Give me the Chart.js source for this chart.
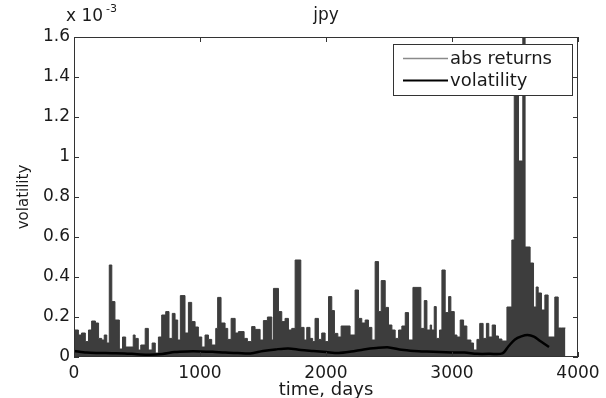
<!DOCTYPE html>
<html>
<head>
<meta charset="utf-8">
<script src="https://cdn.jsdelivr.net/npm/chart.js@4"></script>
<style>
  body { margin: 0; background: #fff; }
</style>
</head>
<body>
<canvas id="chart" width="606" height="398"></canvas>
<script>
// abs returns (x 1e-3), each value holds from its start day to the next one
const retDays = [0, 35, 60, 90, 115, 140, 170, 195, 220, 240, 260, 280, 300, 325, 360, 385, 410, 470, 485, 510,
  530, 565, 590, 620, 645, 670, 696, 728, 754, 780, 802, 823, 844, 881, 908, 934, 961, 987, 1014, 1040,
  1067, 1093, 1125, 1140, 1167, 1199, 1220, 1247, 1279, 1305, 1350, 1376, 1410, 1437, 1477, 1503, 1535, 1570, 1583, 1623,
  1649, 1675, 1702, 1728, 1755, 1800, 1826, 1847, 1873, 1894, 1913, 1940, 1966, 1993, 2020, 2046, 2067, 2094, 2120, 2191,
  2231, 2258, 2284, 2311, 2337, 2364, 2390, 2417, 2438, 2470, 2496, 2523, 2549, 2576, 2602, 2629, 2655, 2690, 2753, 2780,
  2801, 2827, 2838, 2859, 2875, 2901, 2920, 2946, 2973, 2991, 3018, 3039, 3065, 3092, 3118, 3150, 3171, 3198, 3220, 3247,
  3273, 3292, 3319, 3345, 3369, 3396, 3436, 3475, 3494, 3528, 3562, 3580, 3620, 3647, 3668, 3684, 3710, 3737, 3763, 3816,
  3843, 3869, 3900];
const retValues = [0.06, 0.135, 0.11, 0.12, 0.077, 0.135, 0.18, 0.17, 0.093, 0.085, 0.11, 0.07, 0.46, 0.277, 0.185, 0.04, 0.10, 0.05, 0.11, 0.093,
  0.035, 0.06, 0.143, 0.035, 0.07, 0.02, 0.10, 0.21, 0.227, 0.093, 0.218, 0.185, 0.085, 0.307, 0.12, 0.273, 0.177, 0.15, 0.10, 0.05,
  0.11, 0.088, 0.06, 0.143, 0.298, 0.17, 0.143, 0.088, 0.193, 0.12, 0.127, 0.093, 0.077, 0.152, 0.138, 0.085, 0.182, 0.20, 0.085, 0.343,
  0.227, 0.177, 0.193, 0.135, 0.143, 0.485, 0.148, 0.085, 0.148, 0.093, 0.077, 0.193, 0.088, 0.12, 0.077, 0.302, 0.232, 0.118, 0.10, 0.155,
  0.11, 0.335, 0.193, 0.17, 0.185, 0.148, 0.085, 0.477, 0.227, 0.382, 0.248, 0.16, 0.135, 0.093, 0.135, 0.155, 0.222, 0.085, 0.348, 0.143,
  0.282, 0.135, 0.16, 0.135, 0.252, 0.093, 0.135, 0.435, 0.222, 0.302, 0.227, 0.11, 0.10, 0.185, 0.155, 0.085, 0.07, 0.035, 0.088, 0.168,
  0.093, 0.168, 0.10, 0.16, 0.105, 0.09, 0.08, 0.25, 0.585, 1.5, 0.98, 1.75, 0.55, 0.47, 0.25, 0.35, 0.32, 0.235, 0.31, 0.10,
  0.30, 0.145, 0.145];

// smoothed volatility (x 1e-3)
const volDays = [0, 100, 200, 300, 400, 500, 600, 700, 800, 900, 1000, 1100, 1200, 1300, 1400, 1500, 1600, 1700, 1800, 1900,
  2000, 2100, 2200, 2300, 2400, 2500, 2600, 2700, 2800, 2900, 3000, 3100, 3200, 3300, 3400, 3450, 3500, 3550, 3600, 3650,
  3700, 3770];
const volValues = [0.030, 0.022, 0.020, 0.019, 0.018, 0.014, 0.011, 0.015, 0.025, 0.028, 0.028, 0.026, 0.022, 0.020, 0.018, 0.030, 0.038, 0.043, 0.035, 0.030,
  0.025, 0.020, 0.027, 0.038, 0.045, 0.048, 0.036, 0.030, 0.027, 0.025, 0.023, 0.022, 0.016, 0.016, 0.018, 0.055, 0.088, 0.103, 0.110, 0.102,
  0.080, 0.050];

const xTicks = [0, 1000, 2000, 3000, 4000];
const yTicks = [0, 0.2, 0.4, 0.6, 0.8, 1, 1.2, 1.4, 1.6];
const seriesNames = ['abs returns', 'volatility'];
const seriesColors = ['#8a8a8a', '#000000'];

Chart.defaults.font.family = 'DejaVu Sans';
Chart.defaults.font.size = 17;
Chart.defaults.color = '#1a1a1a';

// frame, inward ticks, title, axis labels and boxed legend like matlab
const matlabDecor = {
  id: 'matlabDecor',
  afterDatasetsDraw(chart) {
    const { ctx, chartArea: a, scales } = chart;
    ctx.save();
    ctx.strokeStyle = '#333';
    ctx.lineWidth = 1;
    ctx.strokeRect(a.left + 0.5, a.top + 0.5, a.right - a.left - 1, a.bottom - a.top - 1);
    ctx.beginPath();
    xTicks.forEach(v => {
      const x = Math.round(scales.x.getPixelForValue(v)) + 0.5;
      ctx.moveTo(x, a.bottom); ctx.lineTo(x, a.bottom - 5);
      ctx.moveTo(x, a.top); ctx.lineTo(x, a.top + 5);
    });
    yTicks.forEach(v => {
      const y = Math.round(scales.y.getPixelForValue(v)) + 0.5;
      ctx.moveTo(a.left, y); ctx.lineTo(a.left + 5, y);
      ctx.moveTo(a.right, y); ctx.lineTo(a.right - 5, y);
    });
    ctx.stroke();
    ctx.restore();
  },
  afterDraw(chart) {
    const { ctx, chartArea: a } = chart;
    ctx.save();
    ctx.fillStyle = '#1a1a1a';
    ctx.textBaseline = 'alphabetic';

    // title
    ctx.font = '17px "DejaVu Sans"';
    ctx.textAlign = 'center';
    ctx.fillText('jpy', (a.left + a.right) / 2, 20);

    // exponent
    ctx.textAlign = 'left';
    ctx.fillText('x 10', 66, 21);
    ctx.font = '11px "DejaVu Sans"';
    ctx.fillText('-3', 106, 12);

    // x label
    ctx.font = '18px "DejaVu Sans"';
    ctx.textAlign = 'center';
    ctx.fillText('time, days', (a.left + a.right) / 2, 395);

    // y label
    ctx.font = '15px "DejaVu Sans"';
    ctx.translate(28, (a.top + a.bottom) / 2);
    ctx.rotate(-Math.PI / 2);
    ctx.fillText('volatility', 0, 0);
    ctx.setTransform(1, 0, 0, 1, 0, 0);

    // legend
    const bx = 393, by = 44, bw = 179, bh = 51;
    ctx.fillStyle = '#fff';
    ctx.fillRect(bx, by, bw, bh);
    ctx.strokeStyle = '#333';
    ctx.lineWidth = 1;
    ctx.strokeRect(bx + 0.5, by + 0.5, bw, bh);
    ctx.font = '18px "DejaVu Sans"';
    ctx.textAlign = 'left';
    seriesNames.forEach((name, i) => {
      const y = by + 14 + i * 22;
      ctx.strokeStyle = seriesColors[i];
      ctx.lineWidth = i === 0 ? 1.5 : 2;
      ctx.beginPath();
      ctx.moveTo(bx + 10, y + 0.5);
      ctx.lineTo(bx + 55, y + 0.5);
      ctx.stroke();
      ctx.fillStyle = '#1a1a1a';
      ctx.fillText(name, bx + 57, y + 6);
    });
    ctx.restore();
  }
};

new Chart(document.getElementById('chart'), {
  type: 'line',
  data: {
    datasets: [{
      label: seriesNames[0],
      data: retDays.map((d, i) => ({ x: d, y: retValues[i] })),
      borderColor: '#3d3d3d',
      backgroundColor: '#3d3d3d',
      borderWidth: 1,
      fill: 'origin',
      stepped: 'after',
      pointRadius: 0,
      order: 2
    }, {
      label: seriesNames[1],
      data: volDays.map((d, i) => ({ x: d, y: volValues[i] })),
      borderColor: '#000',
      borderWidth: 2.5,
      fill: false,
      tension: 0.3,
      pointRadius: 0,
      order: 1
    }]
  },
  options: {
    responsive: false,
    animation: false,
    layout: { padding: { left: 0, top: 37, right: 28, bottom: 0 } },
    plugins: {
      legend: { display: false },
      tooltip: { enabled: false },
      title: { display: false }
    },
    scales: {
      x: {
        type: 'linear',
        min: 0,
        max: 4000,
        afterFit: s => { s.height = 41; },
        afterBuildTicks: s => { s.ticks = xTicks.map(v => ({ value: v })); },
        grid: { display: false, drawTicks: false },
        border: { display: false },
        ticks: { padding: 6, maxRotation: 0, callback: v => String(v) }
      },
      y: {
        min: 0,
        max: 1.6,
        afterFit: s => { s.width = 74; },
        afterBuildTicks: s => { s.ticks = yTicks.map(v => ({ value: v })); },
        grid: { display: false, drawTicks: false },
        border: { display: false },
        ticks: { padding: 4, callback: v => String(v) }
      }
    }
  },
  plugins: [matlabDecor]
});
</script>
</body>
</html>
